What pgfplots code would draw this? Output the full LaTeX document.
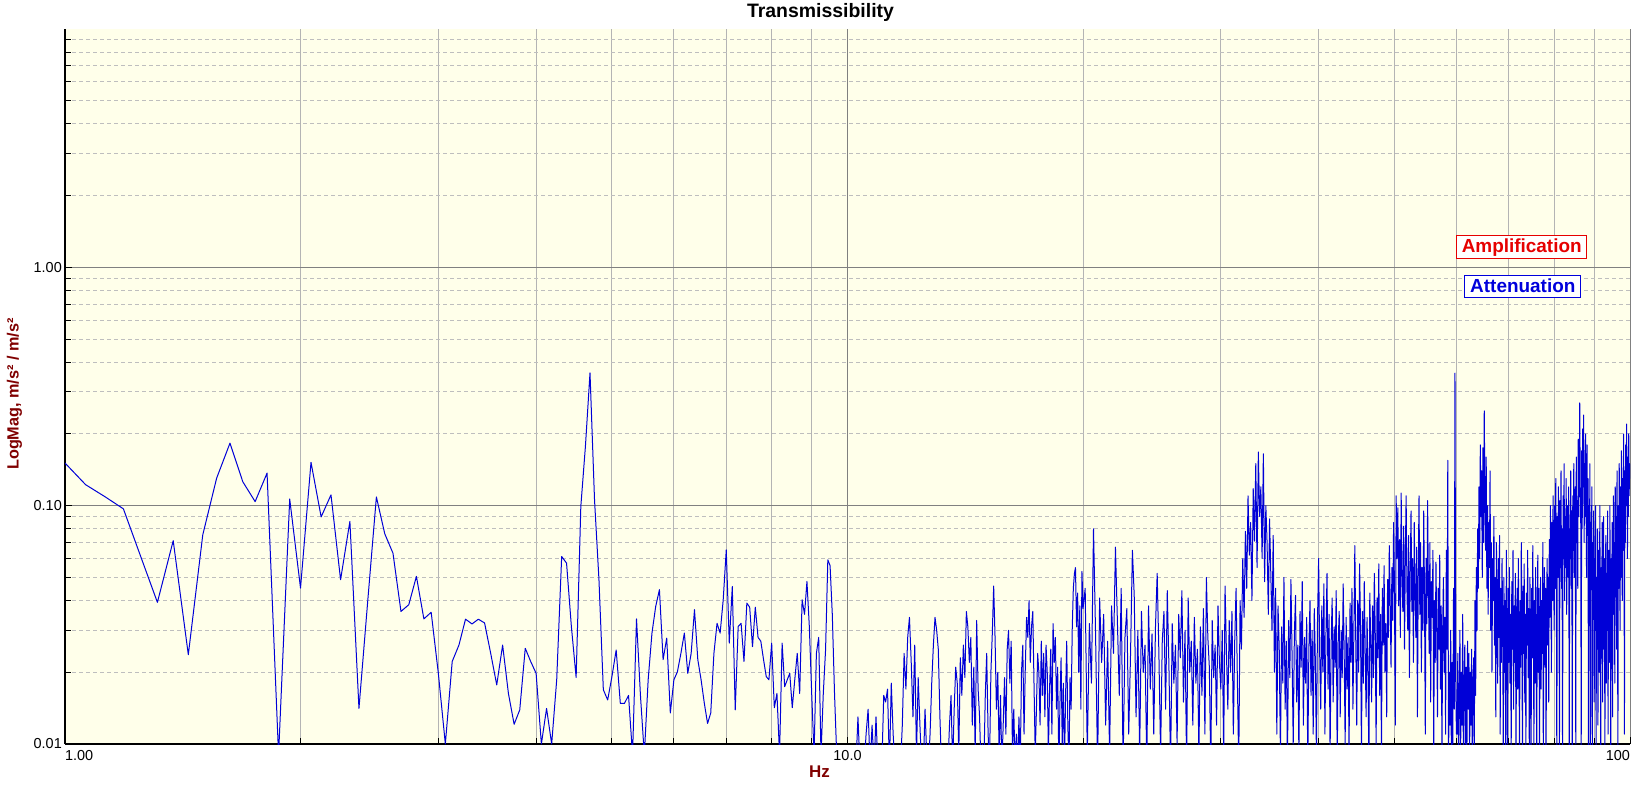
\documentclass[border=0pt]{standalone}
\usepackage{fontspec}
\setmainfont{Liberation Sans}
\usepackage{pgfplots}
\pgfplotsset{compat=1.18}
\definecolor{bgpaper}{RGB}{255,255,234}
\definecolor{gridv}{RGB}{180,180,180}
\definecolor{gridmaj}{RGB}{128,128,128}
\definecolor{gridmin}{RGB}{190,190,190}
\definecolor{trace}{RGB}{0,0,215}
\definecolor{labred}{RGB}{128,0,0}
\definecolor{amp}{RGB}{230,0,0}
\definecolor{att}{RGB}{0,0,220}

\begin{document}
\begin{tikzpicture}
\useasboundingbox (-65bp,-44bp) rectangle (1573bp,744bp);
\begin{axis}[
  scale only axis, width=1565bp, height=715bp,
  xmode=log, ymode=log,
  xmin=1, xmax=100, ymin=0.01, ymax=10,
  axis lines*=left,
  axis line style={-, line width=2bp, black},
  axis background/.style={fill=bgpaper},
  xtick={1,10,100},
  xticklabels={\makebox[0pt][l]{1.00},10.0,\makebox[0pt][r]{100}},
  ytick={0.01,0.1,1}, yticklabels={0.01,0.10,1.00},
  minor xtick={2,3,4,5,6,7,8,9,20,30,40,50,60,70,80,90},
  minor ytick={0.02,0.03,0.04,0.05,0.06,0.07,0.08,0.09,0.2,0.3,0.4,0.5,0.6,0.7,0.8,0.9,2,3,4,5,6,7,8,9},
  grid=both,
  major x grid style={gridmaj, line width=1bp},
  minor x grid style={gridv, line width=1bp},
  major y grid style={gridmaj, line width=1bp},
  minor y grid style={gridmin, line width=1bp, dash pattern=on 4bp off 3bp},
  tick style={black, line width=1bp},
  major tick length=7bp, minor tick length=6bp,
  tick label style={font=\fontsize{14.5}{17}\selectfont, inner sep=0pt},
  xticklabel shift=6bp, yticklabel shift=3bp,
]
\addplot[trace, line width=1bp, line join=round] coordinates {
(1.0,0.151) (1.0625,0.1225) (1.125,0.109) (1.1875,0.097) (1.25,0.061) (1.3125,0.0393)
(1.375,0.0713) (1.4375,0.0237) (1.5,0.0755) (1.5625,0.1305) (1.625,0.183) (1.6875,0.126)
(1.75,0.104) (1.8125,0.137) (1.875,0.009) (1.9375,0.1067) (2.0,0.0451) (2.0625,0.152)
(2.125,0.0897) (2.1875,0.111) (2.25,0.0489) (2.3125,0.0859) (2.375,0.0141) (2.4375,0.04)
(2.5,0.1088) (2.5625,0.0762) (2.625,0.0632) (2.6875,0.036) (2.75,0.0384) (2.8125,0.0505)
(2.875,0.0335) (2.9375,0.0357) (3.0,0.0198) (3.0625,0.0100) (3.125,0.0222) (3.1875,0.026)
(3.25,0.0334) (3.3125,0.0319) (3.375,0.0334) (3.4375,0.0322) (3.5,0.024) (3.5625,0.0177)
(3.625,0.026) (3.6875,0.0163) (3.75,0.0121) (3.8125,0.0139) (3.875,0.0252) (3.9375,0.0222)
(4.0,0.0198) (4.0625,0.0100) (4.125,0.0141) (4.1875,0.0100) (4.25,0.0186) (4.3125,0.0612)
(4.375,0.0574) (4.4375,0.0311) (4.5,0.019) (4.5625,0.0993) (4.625,0.178) (4.6875,0.361)
(4.75,0.106) (4.8125,0.0489) (4.875,0.0169) (4.9375,0.0153) (5.0,0.0192) (5.0625,0.0248)
(5.125,0.0148) (5.1875,0.0148) (5.25,0.016) (5.3125,0.009) (5.375,0.0335) (5.4375,0.016)
(5.5,0.009) (5.5625,0.0186) (5.625,0.0292) (5.6875,0.0378) (5.75,0.0444) (5.8125,0.0226)
(5.875,0.0278) (5.9375,0.0135) (6.0,0.0186) (6.0625,0.0201) (6.125,0.024) (6.1875,0.0292)
(6.25,0.0198) (6.3125,0.024) (6.375,0.0366) (6.4375,0.0226) (6.5,0.0186) (6.5625,0.0148)
(6.625,0.0122) (6.6875,0.0135) (6.75,0.024) (6.8125,0.0321) (6.875,0.0292) (6.9375,0.0403)
(7.0,0.0653) (7.0625,0.0265) (7.125,0.0458) (7.1875,0.0139) (7.25,0.0311) (7.3125,0.0321)
(7.375,0.0222) (7.4375,0.039) (7.5,0.0375) (7.5625,0.0256) (7.625,0.0375) (7.6875,0.028)
(7.75,0.027) (7.8125,0.0226) (7.875,0.0192) (7.9375,0.0186) (8.0,0.0265) (8.0625,0.0142)
(8.125,0.0163) (8.1875,0.009) (8.25,0.0265) (8.3125,0.0174) (8.375,0.0186) (8.4375,0.0198)
(8.5,0.0142) (8.5625,0.0186) (8.625,0.024) (8.6875,0.0163) (8.75,0.0403) (8.8125,0.035)
(8.875,0.0481) (8.9375,0.0311) (9.0,0.0163) (9.0625,0.009) (9.125,0.024) (9.1875,0.028)
(9.25,0.009) (9.3125,0.0163) (9.375,0.0248) (9.4375,0.0593) (9.5,0.056) (9.5625,0.035)
(9.625,0.0163) (9.6875,0.009) (9.75,0.009) (9.8125,0.009) (9.875,0.009) (9.9375,0.009)
(10.0,0.009) (10.0625,0.008) (10.125,0.008) (10.1875,0.008) (10.25,0.008) (10.3125,0.013)
(10.375,0.008) (10.4375,0.009) (10.5,0.008) (10.5625,0.011) (10.625,0.014) (10.6875,0.008)
(10.75,0.012) (10.8125,0.008) (10.875,0.013) (10.9375,0.008) (11.0,0.009) (11.0625,0.008)
(11.125,0.016) (11.1875,0.015) (11.25,0.017) (11.3125,0.008) (11.375,0.018) (11.4375,0.011)
(11.5,0.008) (11.5625,0.008) (11.625,0.008) (11.6875,0.008) (11.75,0.012) (11.8125,0.024)
(11.875,0.017) (11.9375,0.028) (12.0,0.034) (12.0625,0.022) (12.125,0.013) (12.1875,0.026)
(12.25,0.009) (12.3125,0.019) (12.375,0.012) (12.4375,0.008) (12.5,0.008) (12.5625,0.014)
(12.625,0.009) (12.6875,0.008) (12.75,0.011) (12.8125,0.018) (12.875,0.026) (12.9375,0.034)
(13.0,0.03) (13.0625,0.025) (13.125,0.013) (13.1875,0.008) (13.25,0.009) (13.3125,0.008)
(13.375,0.008) (13.4375,0.008) (13.5,0.012) (13.5625,0.016) (13.625,0.008) (13.6875,0.014)
(13.75,0.021) (13.8125,0.018) (13.875,0.009) (13.9375,0.023) (14.0,0.016) (14.0625,0.026)
(14.125,0.019) (14.1875,0.036) (14.25,0.031) (14.3125,0.022) (14.375,0.028) (14.4375,0.012)
(14.5,0.021) (14.5625,0.009) (14.625,0.033) (14.6875,0.017) (14.75,0.013) (14.8125,0.008)
(14.875,0.01) (14.9375,0.008) (15.0,0.016) (15.0625,0.024) (15.125,0.011) (15.1875,0.008)
(15.25,0.02) (15.3125,0.029) (15.375,0.046) (15.4375,0.028) (15.5,0.014) (15.5625,0.02)
(15.625,0.009) (15.6875,0.016) (15.75,0.008) (15.8125,0.012) (15.875,0.019) (15.9375,0.011)
(16.0,0.025) (16.0625,0.03) (16.125,0.018) (16.1875,0.027) (16.25,0.009) (16.3125,0.014)
(16.375,0.008) (16.4375,0.011) (16.5,0.008) (16.5625,0.013) (16.625,0.008) (16.6875,0.02)
(16.75,0.026) (16.8125,0.011) (16.875,0.021) (16.9375,0.034) (17.0,0.028) (17.0625,0.04)
(17.125,0.022) (17.1875,0.031) (17.25,0.036) (17.3125,0.018) (17.375,0.009) (17.4375,0.014)
(17.5,0.024) (17.5625,0.02) (17.625,0.012) (17.6875,0.027) (17.75,0.016) (17.8125,0.024)
(17.875,0.013) (17.9375,0.026) (18.0,0.02) (18.0625,0.009) (18.125,0.017) (18.1875,0.025)
(18.25,0.011) (18.3125,0.032) (18.375,0.022) (18.4375,0.028) (18.5,0.014) (18.5625,0.021)
(18.625,0.008) (18.6875,0.015) (18.75,0.023) (18.8125,0.01) (18.875,0.018) (18.9375,0.008)
(19.0,0.016) (19.0625,0.027) (19.125,0.012) (19.1875,0.008) (19.25,0.019) (19.3125,0.014)
(19.375,0.03) (19.4375,0.045) (19.5,0.052) (19.5625,0.055) (19.625,0.031) (19.6875,0.043)
(19.75,0.02) (19.8125,0.038) (19.875,0.014) (19.9375,0.053) (20.0,0.037)
(20.125,0.045) (20.25,0.009) (20.375,0.032) (20.5,0.018) (20.625,0.08) (20.75,0.029)
(20.875,0.008) (21.0,0.041) (21.125,0.022) (21.25,0.035) (21.375,0.012) (21.5,0.027)
(21.625,0.009) (21.75,0.038) (21.875,0.024) (22.0,0.067) (22.125,0.033) (22.25,0.016)
(22.375,0.045) (22.5,0.008) (22.625,0.028) (22.75,0.037) (22.875,0.011) (23.0,0.024)
(23.125,0.065) (23.25,0.042) (23.375,0.013) (23.5,0.03) (23.625,0.009) (23.75,0.036)
(23.875,0.02) (24.0,0.026) (24.125,0.008) (24.25,0.038) (24.375,0.017) (24.5,0.029)
(24.625,0.011) (24.75,0.031) (24.875,0.052) (25.0,0.024) (25.125,0.009) (25.25,0.027)
(25.375,0.036) (25.5,0.014) (25.625,0.044) (25.75,0.021) (25.875,0.008) (26.0,0.032)
(26.125,0.018) (26.25,0.026) (26.375,0.01) (26.5,0.035) (26.625,0.023) (26.75,0.044)
(26.875,0.015) (27.0,0.03) (27.125,0.008) (27.25,0.041) (27.375,0.02) (27.5,0.027)
(27.625,0.012) (27.75,0.034) (27.875,0.018) (28.0,0.025) (28.125,0.009) (28.25,0.031)
(28.375,0.016) (28.5,0.037) (28.625,0.011) (28.75,0.05) (28.875,0.028) (29.0,0.021)
(29.125,0.008) (29.25,0.033) (29.375,0.019) (29.5,0.026) (29.625,0.012) (29.75,0.038)
(29.875,0.022) (30.0,0.017) (30.125,0.03) (30.25,0.009) (30.375,0.046) (30.5,0.024)
(30.625,0.014) (30.75,0.033) (30.875,0.02) (31.0,0.036) (31.125,0.011) (31.25,0.027)
(31.375,0.045) (31.5,0.018) (31.625,0.008) (31.75,0.04) (31.875,0.025) (32.0,0.06)
(32.125,0.034) (32.25,0.078) (32.375,0.045) (32.5,0.11) (32.625,0.062) (32.75,0.085)
(32.875,0.04) (33.0,0.118) (33.125,0.071) (33.25,0.15) (33.375,0.055) (33.5,0.168)
(33.625,0.09) (33.75,0.12) (33.875,0.06) (34.0,0.165) (34.125,0.048) (34.25,0.1)
(34.375,0.07) (34.5,0.035) (34.625,0.088) (34.75,0.052) (34.875,0.03) (35.0,0.075)
(35.125,0.02) (35.25,0.045) (35.375,0.011) (35.5,0.038) (35.625,0.025) (35.75,0.009)
(35.875,0.031) (36.0,0.018) (36.125,0.05) (36.25,0.014) (36.375,0.027) (36.5,0.008)
(36.625,0.033) (36.75,0.019) (36.875,0.049) (37.0,0.023) (37.125,0.01) (37.25,0.029)
(37.375,0.042) (37.5,0.015) (37.625,0.026) (37.75,0.009) (37.875,0.036) (38.0,0.021)
(38.125,0.048) (38.25,0.012) (38.375,0.028) (38.5,0.018) (38.625,0.034) (38.75,0.008)
(38.875,0.025) (39.0,0.04) (39.125,0.016) (39.25,0.03) (39.375,0.011) (39.5,0.037)
(39.625,0.022) (39.75,0.009) (39.875,0.033) (40.0,0.06) (40.125,0.024) (40.25,0.014)
(40.375,0.038) (40.5,0.02) (40.625,0.047) (40.75,0.011) (40.875,0.029) (41.0,0.052)
(41.125,0.017) (41.25,0.035) (41.375,0.009) (41.5,0.026) (41.625,0.041) (41.75,0.015)
(41.875,0.031) (42.0,0.021) (42.125,0.044) (42.25,0.008) (42.375,0.027) (42.5,0.036)
(42.625,0.013) (42.75,0.03) (42.875,0.019) (43.0,0.047) (43.125,0.024) (43.25,0.01)
(43.375,0.034) (43.5,0.017) (43.625,0.028) (43.75,0.009) (43.875,0.039) (44.0,0.022)
(44.125,0.045) (44.25,0.014) (44.375,0.03) (44.5,0.068) (44.625,0.026) (44.75,0.012)
(44.875,0.04) (45.0,0.02) (45.125,0.057) (45.25,0.031) (45.375,0.009) (45.5,0.036)
(45.625,0.018) (45.75,0.048) (45.875,0.025) (46.0,0.013) (46.125,0.034) (46.25,0.021)
(46.375,0.008) (46.5,0.043) (46.625,0.027) (46.75,0.015) (46.875,0.038) (47.0,0.019)
(47.125,0.052) (47.25,0.03) (47.375,0.01) (47.5,0.041) (47.625,0.023) (47.75,0.057)
(47.875,0.016) (48.0,0.035) (48.125,0.009) (48.25,0.045) (48.375,0.026) (48.5,0.056)
(48.625,0.02) (48.75,0.032) (48.875,0.013) (49.0,0.049) (49.125,0.028) (49.25,0.068)
(49.375,0.04) (49.5,0.021) (49.625,0.055) (49.75,0.033) (49.875,0.085) (50.0,0.046)
(50.125,0.012) (50.25,0.11) (50.375,0.06) (50.5,0.098) (50.625,0.038) (50.75,0.072)
(50.875,0.028) (51.0,0.113) (51.125,0.05) (51.25,0.036) (51.375,0.082) (51.5,0.025)
(51.625,0.06) (51.75,0.11) (51.875,0.044) (52.0,0.03) (52.125,0.075) (52.25,0.019)
(52.375,0.052) (52.5,0.095) (52.625,0.036) (52.75,0.06) (52.875,0.022) (53.0,0.085)
(53.125,0.045) (53.25,0.028) (53.375,0.067) (53.5,0.013) (53.625,0.05) (53.75,0.11)
(53.875,0.035) (54.0,0.07) (54.125,0.02) (54.25,0.055) (54.375,0.03) (54.5,0.095)
(54.625,0.042) (54.75,0.011) (54.875,0.06) (55.0,0.032) (55.125,0.105) (55.25,0.046)
(55.375,0.024) (55.5,0.07) (55.625,0.015) (55.75,0.048) (55.875,0.034) (56.0,0.065)
(56.125,0.009) (56.25,0.04) (56.375,0.022) (56.5,0.058) (56.625,0.03) (56.75,0.013)
(56.875,0.045) (57.0,0.025) (57.125,0.062) (57.25,0.017) (57.375,0.038) (57.5,0.009)
(57.625,0.03) (57.75,0.05) (57.875,0.02) (58.0,0.034) (58.125,0.011) (58.25,0.065)
(58.375,0.025) (58.5,0.155) (58.625,0.008) (58.75,0.02) (58.875,0.012) (59.0,0.03)
(59.125,0.008) (59.25,0.022) (59.375,0.01) (59.5,0.045) (59.625,0.014) (59.75,0.36)
(59.875,0.019) (60.0,0.011) (60.125,0.011) (60.25,0.024) (60.375,0.008) (60.5,0.016)
(60.625,0.03) (60.75,0.009) (60.875,0.02) (61.0,0.012) (61.125,0.035) (61.25,0.008)
(61.375,0.018) (61.5,0.026) (61.625,0.01) (61.75,0.021) (61.875,0.008) (62.0,0.027)
(62.125,0.014) (62.25,0.024) (62.375,0.009) (62.5,0.02) (62.625,0.012) (62.75,0.025)
(62.875,0.008) (63.0,0.017) (63.125,0.023) (63.25,0.01) (63.375,0.04) (63.5,0.016)
(63.625,0.055) (63.75,0.03) (63.875,0.08) (64.0,0.045) (64.125,0.12) (64.25,0.06)
(64.375,0.18) (64.5,0.09) (64.625,0.14) (64.75,0.05) (64.875,0.175) (65.0,0.07)
(65.125,0.25) (65.25,0.11) (65.375,0.065) (65.5,0.16) (65.625,0.045) (65.75,0.1)
(65.875,0.035) (66.0,0.085) (66.125,0.055) (66.25,0.14) (66.375,0.03) (66.5,0.07)
(66.625,0.02) (66.75,0.06) (66.875,0.04) (67.0,0.09) (67.125,0.026) (67.25,0.05)
(67.375,0.013) (67.5,0.07) (67.625,0.035) (67.75,0.018) (67.875,0.06) (68.0,0.028)
(68.125,0.075) (68.25,0.011) (68.375,0.045) (68.5,0.022) (68.625,0.06) (68.75,0.033)
(68.875,0.009) (69.0,0.05) (69.125,0.02) (69.25,0.04) (69.375,0.008) (69.5,0.065)
(69.625,0.027) (69.75,0.01) (69.875,0.045) (70.0,0.022) (70.125,0.055) (70.25,0.018)
(70.375,0.035) (70.5,0.009) (70.625,0.048) (70.75,0.025) (70.875,0.065) (71.0,0.014)
(71.125,0.038) (71.25,0.022) (71.375,0.052) (71.5,0.008) (71.625,0.03) (71.75,0.045)
(71.875,0.017) (72.0,0.06) (72.125,0.028) (72.25,0.008) (72.375,0.04) (72.5,0.021)
(72.625,0.07) (72.75,0.033) (72.875,0.008) (73.0,0.046) (73.125,0.024) (73.25,0.057)
(73.375,0.015) (73.5,0.035) (73.625,0.009) (73.75,0.043) (73.875,0.026) (74.0,0.065)
(74.125,0.019) (74.25,0.037) (74.375,0.008) (74.5,0.05) (74.625,0.029) (74.75,0.008)
(74.875,0.045) (75.0,0.023) (75.125,0.068) (75.25,0.03) (75.375,0.01) (75.5,0.04)
(75.625,0.018) (75.75,0.055) (75.875,0.027) (76.0,0.008) (76.125,0.036) (76.25,0.062)
(76.375,0.02) (76.5,0.045) (76.625,0.009) (76.75,0.032) (76.875,0.05) (77.0,0.017)
(77.125,0.04) (77.25,0.024) (77.375,0.07) (77.5,0.008) (77.625,0.035) (77.75,0.055)
(77.875,0.021) (78.0,0.045) (78.125,0.008) (78.25,0.038) (78.375,0.06) (78.5,0.026)
(78.625,0.05) (78.75,0.015) (78.875,0.072) (79.0,0.034) (79.125,0.1) (79.25,0.048)
(79.375,0.02) (79.5,0.085) (79.625,0.04) (79.75,0.11) (79.875,0.055) (80.0,0.03)
(80.125,0.1) (80.25,0.045) (80.375,0.13) (80.5,0.06) (80.625,0.008) (80.75,0.09)
(80.875,0.05) (81.0,0.12) (81.125,0.07) (81.25,0.009) (81.375,0.105) (81.5,0.055)
(81.625,0.14) (81.75,0.045) (81.875,0.08) (82.0,0.008) (82.125,0.11) (82.25,0.06)
(82.375,0.15) (82.5,0.04) (82.625,0.09) (82.75,0.055) (82.875,0.13) (83.0,0.035)
(83.125,0.075) (83.25,0.1) (83.375,0.05) (83.5,0.12) (83.625,0.008) (83.75,0.08)
(83.875,0.06) (84.0,0.14) (84.125,0.045) (84.25,0.095) (84.375,0.009) (84.5,0.11)
(84.625,0.065) (84.75,0.15) (84.875,0.05) (85.0,0.085) (85.125,0.12) (85.25,0.01)
(85.375,0.16) (85.5,0.07) (85.625,0.105) (85.75,0.045) (85.875,0.19) (86.0,0.09)
(86.125,0.13) (86.25,0.27) (86.375,0.12) (86.5,0.1) (86.625,0.009) (86.75,0.17)
(86.875,0.08) (87.0,0.21) (87.125,0.12) (87.25,0.24) (87.375,0.07) (87.5,0.15)
(87.625,0.09) (87.75,0.2) (87.875,0.11) (88.0,0.05) (88.125,0.18) (88.25,0.075)
(88.375,0.13) (88.5,0.008) (88.625,0.1) (88.75,0.06) (88.875,0.15) (89.0,0.008)
(89.125,0.085) (89.25,0.045) (89.375,0.12) (89.5,0.008) (89.625,0.07) (89.75,0.035)
(89.875,0.095) (90.0,0.015) (90.125,0.06) (90.25,0.03) (90.375,0.1) (90.5,0.009)
(90.625,0.05) (90.75,0.025) (90.875,0.08) (91.0,0.012) (91.125,0.045) (91.25,0.065)
(91.375,0.02) (91.5,0.1) (91.625,0.035) (91.75,0.008) (91.875,0.055) (92.0,0.028)
(92.125,0.085) (92.25,0.015) (92.375,0.048) (92.5,0.09) (92.625,0.025) (92.75,0.06)
(92.875,0.009) (93.0,0.04) (93.125,0.075) (93.25,0.018) (93.375,0.052) (93.5,0.03)
(93.625,0.095) (93.75,0.011) (93.875,0.045) (94.0,0.065) (94.125,0.022) (94.25,0.1)
(94.375,0.04) (94.5,0.008) (94.625,0.06) (94.75,0.03) (94.875,0.085) (95.0,0.013)
(95.125,0.05) (95.25,0.11) (95.375,0.035) (95.5,0.07) (95.625,0.018) (95.75,0.12)
(95.875,0.045) (96.0,0.09) (96.125,0.025) (96.25,0.14) (96.375,0.06) (96.5,0.008)
(96.625,0.1) (96.75,0.045) (96.875,0.15) (97.0,0.07) (97.125,0.03) (97.25,0.12)
(97.375,0.05) (97.5,0.17) (97.625,0.08) (97.75,0.04) (97.875,0.13) (98.0,0.065)
(98.125,0.2) (98.25,0.09) (98.375,0.011) (98.5,0.14) (98.625,0.07) (98.75,0.18)
(98.875,0.1) (99.0,0.22) (99.125,0.12) (99.25,0.06) (99.375,0.16) (99.5,0.09)
(99.625,0.2) (99.75,0.11) (99.875,0.15) (100.0,0.13)
};
\end{axis}
\node[font=\fontsize{19.5}{22}\selectfont\bfseries, anchor=base] at (755.5bp,726.7bp) {Transmissibility};
\node[font=\fontsize{17}{20}\selectfont\bfseries, text=labred] at (754.5bp,-28bp) {Hz};
\node[font=\fontsize{16.3}{19}\selectfont\bfseries, text=labred, rotate=90] at (-50.5bp,350bp) {LogMag, m/s² / m/s²};
\node[draw=amp, line width=1bp, fill=white, text=amp, inner sep=0pt,
  minimum width=130bp, minimum height=22.7bp,
  font=\fontsize{19}{22}\selectfont\bfseries] at (1456.7bp,496.7bp) {Amplification};
\node[draw=att, line width=1bp, fill=white, text=att, inner sep=0pt,
  minimum width=115.7bp, minimum height=22.3bp,
  font=\fontsize{19}{22}\selectfont\bfseries] at (1457.8bp,457.8bp) {Attenuation};
\end{tikzpicture}
\end{document}
